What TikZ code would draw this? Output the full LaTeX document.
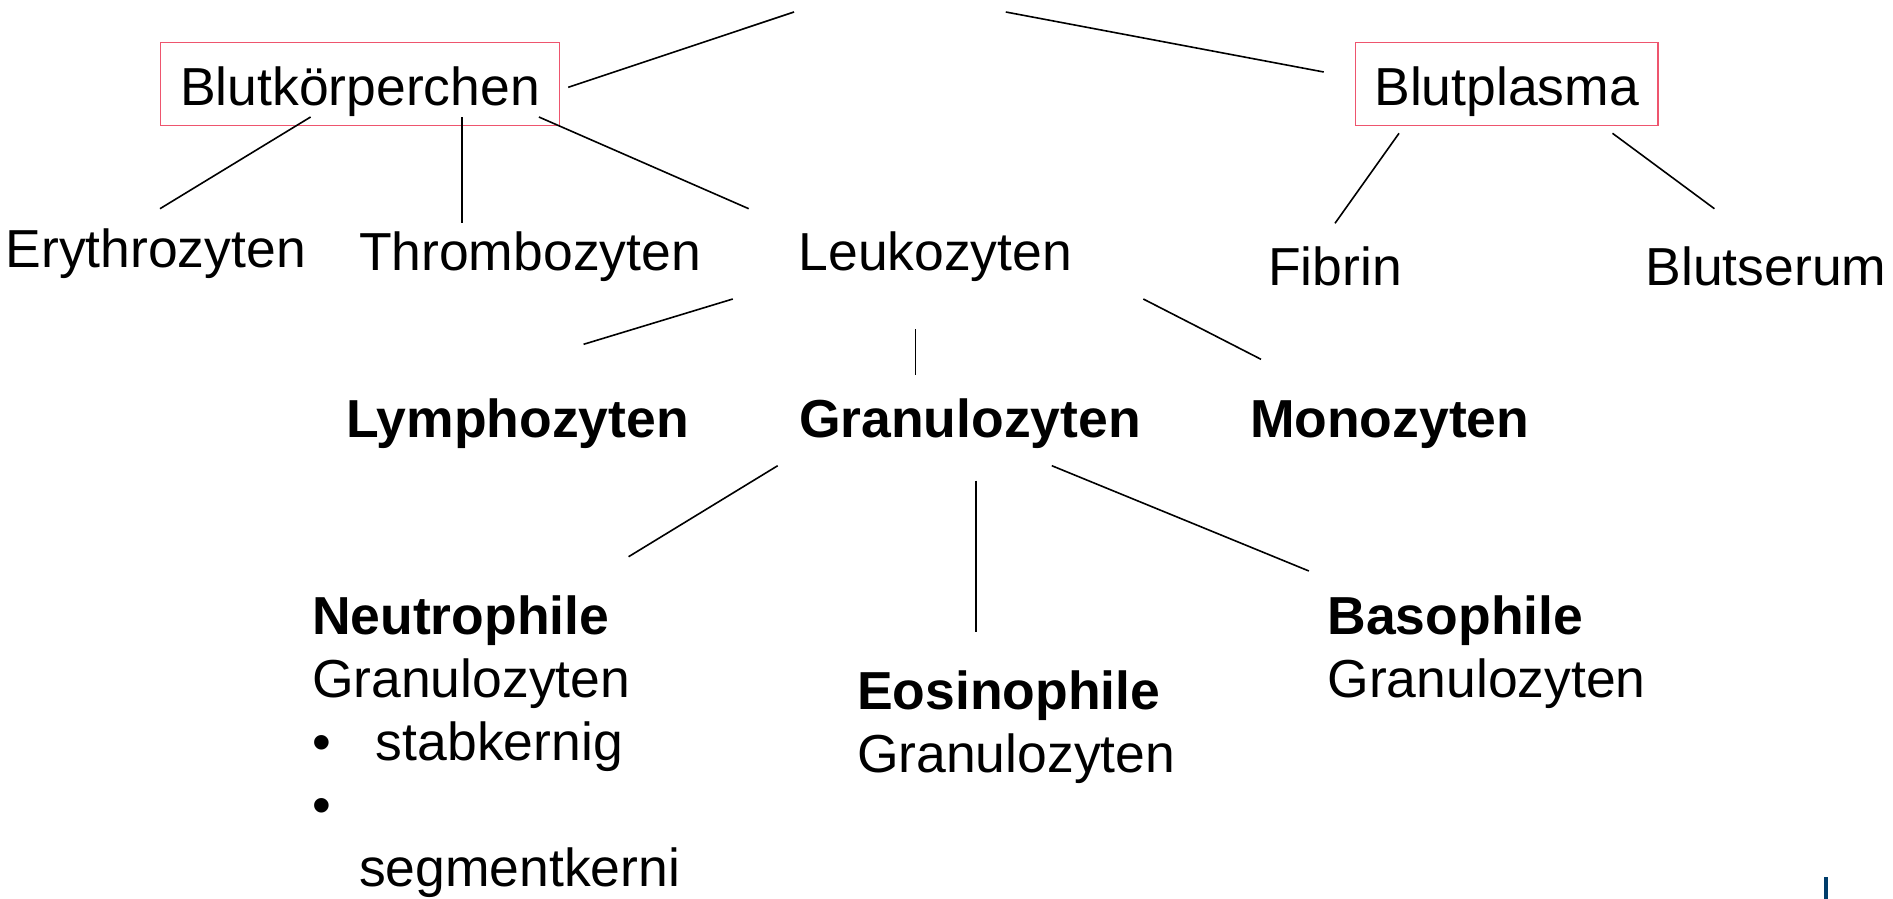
\documentclass[tikz,border=0pt]{standalone}
\usepackage{fontspec}
\setmainfont{Liberation Sans}
\definecolor{boxred}{RGB}{238,85,110}
\definecolor{barblue}{RGB}{0,61,107}
\begin{document}
\begin{tikzpicture}[x=1pt,y=-1pt,
  lbl/.style={inner sep=0pt, outer sep=0pt, anchor=base west, align=left, font=\fontsize{53.5}{63}\selectfont},
  blbl/.style={lbl, font=\fontsize{53.5}{63}\selectfont\bfseries},
  catbox/.style={draw=boxred, line width=1.3pt, inner sep=0pt, font=\fontsize{53.5}{63}\selectfont, text height=62.7pt, text depth=20.3pt},
  link/.style={line width=1.6pt, black}]
\useasboundingbox (0,0) rectangle (1893,899);
% category boxes
\node[catbox, minimum width=398.6pt] (bk) at (360,83.8) {Blutkörperchen};
\node[catbox, minimum width=302.7pt] (bp) at (1506.7,83.8) {Blutplasma};
% second row
\node[lbl] (ery) at (5.5,267) {Erythrozyten};
\node[lbl] (thr) at (359,270.7) {Thrombozyten};
\node[lbl] (leu) at (798.5,270.7) {Leukozyten};
\node[lbl] (fib) at (1268,285) {Fibrin};
\node[lbl] (ser) at (1645.5,285) {Blutserum};
% third row
\node[blbl] (lym) at (346,437.5) {Lymphozyten};
\node[blbl] (gra) at (799,437.5) {Granulozyten};
\node[blbl] (mon) at (1250,437.5) {Monozyten};
% fourth row (multi-line nodes: base anchor is the last line's baseline)
\node[lbl] (neu) at (312,886.3) {\textbf{Neutrophile}\\Granulozyten\\\makebox[64pt][l]{•}stabkernig\\•\\\hspace*{47pt}segmentkerni};
\node[lbl] (eos) at (857,772.7) {\textbf{Eosinophile}\\Granulozyten};
\node[lbl] (bas) at (1327.5,697) {\textbf{Basophile}\\Granulozyten};
% connector end points
\coordinate (rootL) at (794,12);
\coordinate (rootR) at (1005.8,12);
\coordinate (bkR) at (568.2,87.3);
\coordinate (bpL) at (1323.7,72);
\coordinate (bk1) at (310.6,117);   \coordinate (ery1) at (160,208.7);
\coordinate (bk2) at (461.7,117);   \coordinate (thr1) at (461.7,223.3);
\coordinate (bk3) at (538.9,117);   \coordinate (leu1) at (748.7,208.7);
\coordinate (bp1) at (1399,133.3);  \coordinate (fib1) at (1335,223.3);
\coordinate (bp2) at (1612.5,133.3);\coordinate (ser1) at (1714.4,208.7);
\coordinate (leu2) at (732.8,299);  \coordinate (lym1) at (583.6,344.3);
\coordinate (leu3) at (915.3,329.3);\coordinate (gra1) at (915.3,374.7);
\coordinate (leu4) at (1143.3,299); \coordinate (mon1) at (1261,359.3);
\coordinate (gra2) at (777.7,465.7);\coordinate (neu1) at (628.6,556.7);
\coordinate (gra3) at (975.9,480.7);\coordinate (eos1) at (975.9,631.7);
\coordinate (gra4) at (1051.8,465.7);\coordinate (bas1) at (1308.9,571);
% connectors
\draw[link] (rootL) -- (bkR);
\draw[link] (rootR) -- (bpL);
\draw[link] (bk1) -- (ery1);
\draw[link] (bk2) -- (thr1);
\draw[link] (bk3) -- (leu1);
\draw[link] (bp1) -- (fib1);
\draw[link] (bp2) -- (ser1);
\draw[link] (leu2) -- (lym1);
\draw[link] (leu3) -- (gra1);
\draw[link] (leu4) -- (mon1);
\draw[link] (gra2) -- (neu1);
\draw[link] (gra3) -- (eos1);
\draw[link] (gra4) -- (bas1);
% corner mark
\fill[barblue] (1824,877) rectangle (1828,899);
\end{tikzpicture}
\end{document}
